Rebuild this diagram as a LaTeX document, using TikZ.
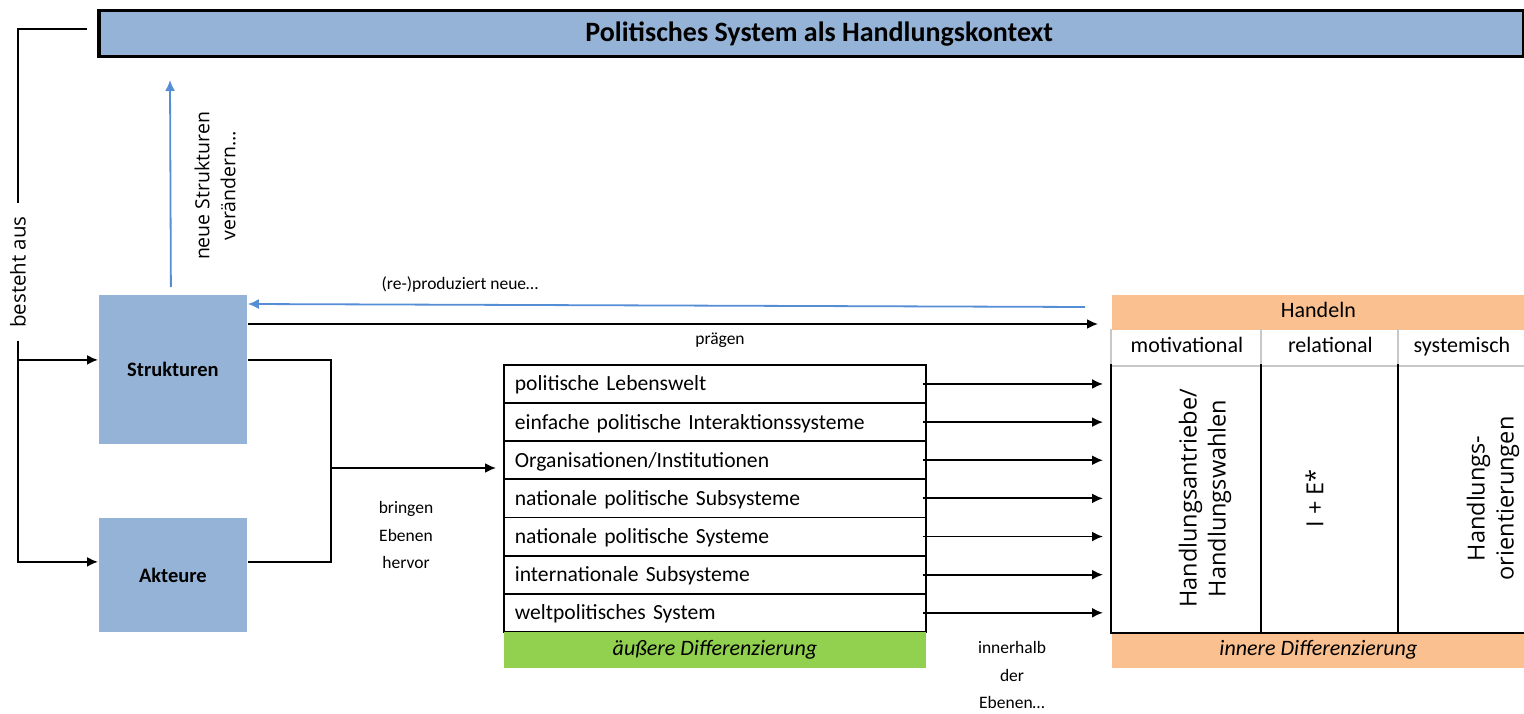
\documentclass[tikz,border=0pt]{standalone}
\usepackage{fontspec}
\setmainfont{Carlito}
\newfontfamily\segfont{Open Sans}
\usepackage{tikz}
\usetikzlibrary{arrows.meta}
\tikzset{>={Latex[length=11pt,width=10pt]}}
\definecolor{boxblue}{RGB}{149,179,215}
\definecolor{arrowblue}{RGB}{85,142,213}
\definecolor{handorange}{RGB}{250,192,144}
\definecolor{diffgreen}{RGB}{146,208,80}
\definecolor{headgray}{RGB}{200,200,200}
\tikzset{
    titlebox/.style={draw, line width=3.5pt, fill=boxblue, anchor=north west, inner sep=0pt,
        minimum width=1425pt, minimum height=46pt, font=\bfseries\fontsize{28}{32}\selectfont},
    actorbox/.style={fill=boxblue, anchor=north west, inner sep=0pt, minimum width=148pt,
        font=\bfseries\fontsize{20.5}{24}\selectfont},
    levelrow/.style={draw, line width=1.8pt, anchor=north west, inner xsep=11pt, inner ysep=0pt,
        text width=400pt, align=left, minimum height=38.14pt, text height=17pt, text depth=3pt,
        font=\fontsize{21.6}{25}\selectfont},
    diffbox/.style={fill=#1, anchor=north west, inner sep=0pt, minimum height=36pt,
        font=\itshape\fontsize{22}{26}\selectfont},
    headcell/.style={anchor=north west, inner sep=0pt, minimum height=35pt,
        text height=15pt, text depth=5pt, font=\fontsize{22}{26}\selectfont},
    bodycell/.style={anchor=north west, inner sep=0pt, minimum height=267pt},
    smalltext/.style={font=\fontsize{17.5}{27.5}\selectfont, align=center, inner sep=0pt},
    vtext/.style 2 args={rotate=90, align=center, inner sep=0pt, font=\segfont\fontsize{#1}{#2}\selectfont},
    bluearrow/.style={->, arrowblue, line width=1.8pt},
}

\begin{document}
\begin{tikzpicture}[x=1pt, y=-1pt, line width=1.8pt]
    \useasboundingbox (0, 0) rectangle (1524, 714);

    \node[titlebox] (sys) at (97, 9) {\hspace*{16pt}Politisches System als Handlungskontext};

    \node[actorbox, minimum height=149pt] (struk) at (98, 294) {Strukturen};
    \node[actorbox, minimum height=114pt] (akt) at (98, 517) {Akteure};

    % besteht aus
    \node[vtext={20.5}{25}, inner xsep=12pt] (besteht) at (18, 272) {besteht aus};
    \draw ([xshift=-10pt, yshift=5pt]sys.west) -| (besteht.east);
    \draw[->] (besteht.west) |- ([yshift=9.5pt]struk.west);
    \draw[->] (besteht.west) |- ([yshift=13pt]akt.west);

    % neue Strukturen
    \coordinate (uptip) at (170, 80);
    \draw[bluearrow] ([xshift=-2pt, yshift=7pt]struk.north) -- (uptip);
    \node[vtext={19.5}{26}] (neuestr) at (215, 186) {neue Strukturen\\verändern…};

    % Ebenen
    \foreach \txt [count=\i] in {politische Lebenswelt, einfache politische Interaktionssysteme,
        Organisationen/Institutionen, nationale politische Subsysteme, nationale politische Systeme,
        internationale Subsysteme, weltpolitisches System}
        \node[levelrow] (lvl\i) at (503, {364+38.14*(\i-1)}) {\txt};
    \node[diffbox=diffgreen, minimum width=422pt] (aussen) at (503, 631) {äußere Differenzierung};

    \coordinate (join) at (331, 468);
    \draw ([yshift=9.5pt]struk.east) -| (join);
    \draw ([yshift=13pt]akt.east) -| (join);
    \draw[->, shorten >=7pt] (join) -- (join -| lvl3.west);
    \node[smalltext] (bringen) at (406, 535) {bringen\\Ebenen\\hervor};

    % Handeln
    \node[headcell, fill=handorange, minimum width=413pt] (handeln) at (1111, 294) {Handeln};
    \node[headcell, minimum width=150pt] (mot) at (1111, 329) {motivational};
    \node[headcell, minimum width=137pt] (rel) at (1261, 329) {relational};
    \node[headcell, minimum width=126pt] (syst) at (1398, 329) {systemisch};
    \node[bodycell, minimum width=150pt] (motbody) at (1111, 364) {};
    \node[bodycell, minimum width=137pt] (relbody) at (1261, 364) {};
    \node[bodycell, minimum width=126pt] (sysbody) at (1398, 364) {};
    \node[diffbox=handorange, minimum width=413pt] (innen) at (1111, 631) {innere Differenzierung};

    \draw[headgray, line width=1.5pt] (mot.north west) -- (mot.south west) -- (syst.south east);
    \draw[headgray, line width=1.5pt] (rel.north west) -- (rel.south west);
    \draw[headgray, line width=1.5pt] (syst.north west) -- (syst.south west);
    \draw (motbody.north west) -- (motbody.south west) -- (sysbody.south east);
    \draw (relbody.north west) -- (relbody.south west);
    \draw (sysbody.north west) -- (sysbody.south west);

    \node[vtext={23.5}{29}] (antriebe) at ([xshift=18pt]motbody.center) {Handlungsantriebe/\\Handlungswahlen};
    \node[vtext={23.5}{29}] (ie) at ([xshift=-16pt]relbody.center) {I + E*};
    \node[vtext={23.5}{29}] (orient) at ([xshift=31pt]sysbody.center) {Handlungs-\\orientierungen};

    \foreach \i in {1,...,7}
        \draw[->, shorten >=8pt] ([xshift=-4pt]lvl\i.east) -- (lvl\i.east -| motbody.west);
    \node[smalltext] (innerhalb) at (1012, 675) {innerhalb\\der\\Ebenen…};

    % (re-)produziert / praegen
    \coordinate (reprod) at (1085, 307);
    \draw[bluearrow] (reprod) -- ([yshift=-10pt]struk.north east);
    \node[smalltext] (reprodtext) at (460, 285) {(re-)produziert neue…};
    \coordinate (praeg) at ([yshift=-30pt]struk.north east);
    \draw[->, shorten >=13pt] (praeg) -- (praeg -| handeln.west);
    \node[smalltext] (praegen) at (720, 340) {prägen};
\end{tikzpicture}
\end{document}
